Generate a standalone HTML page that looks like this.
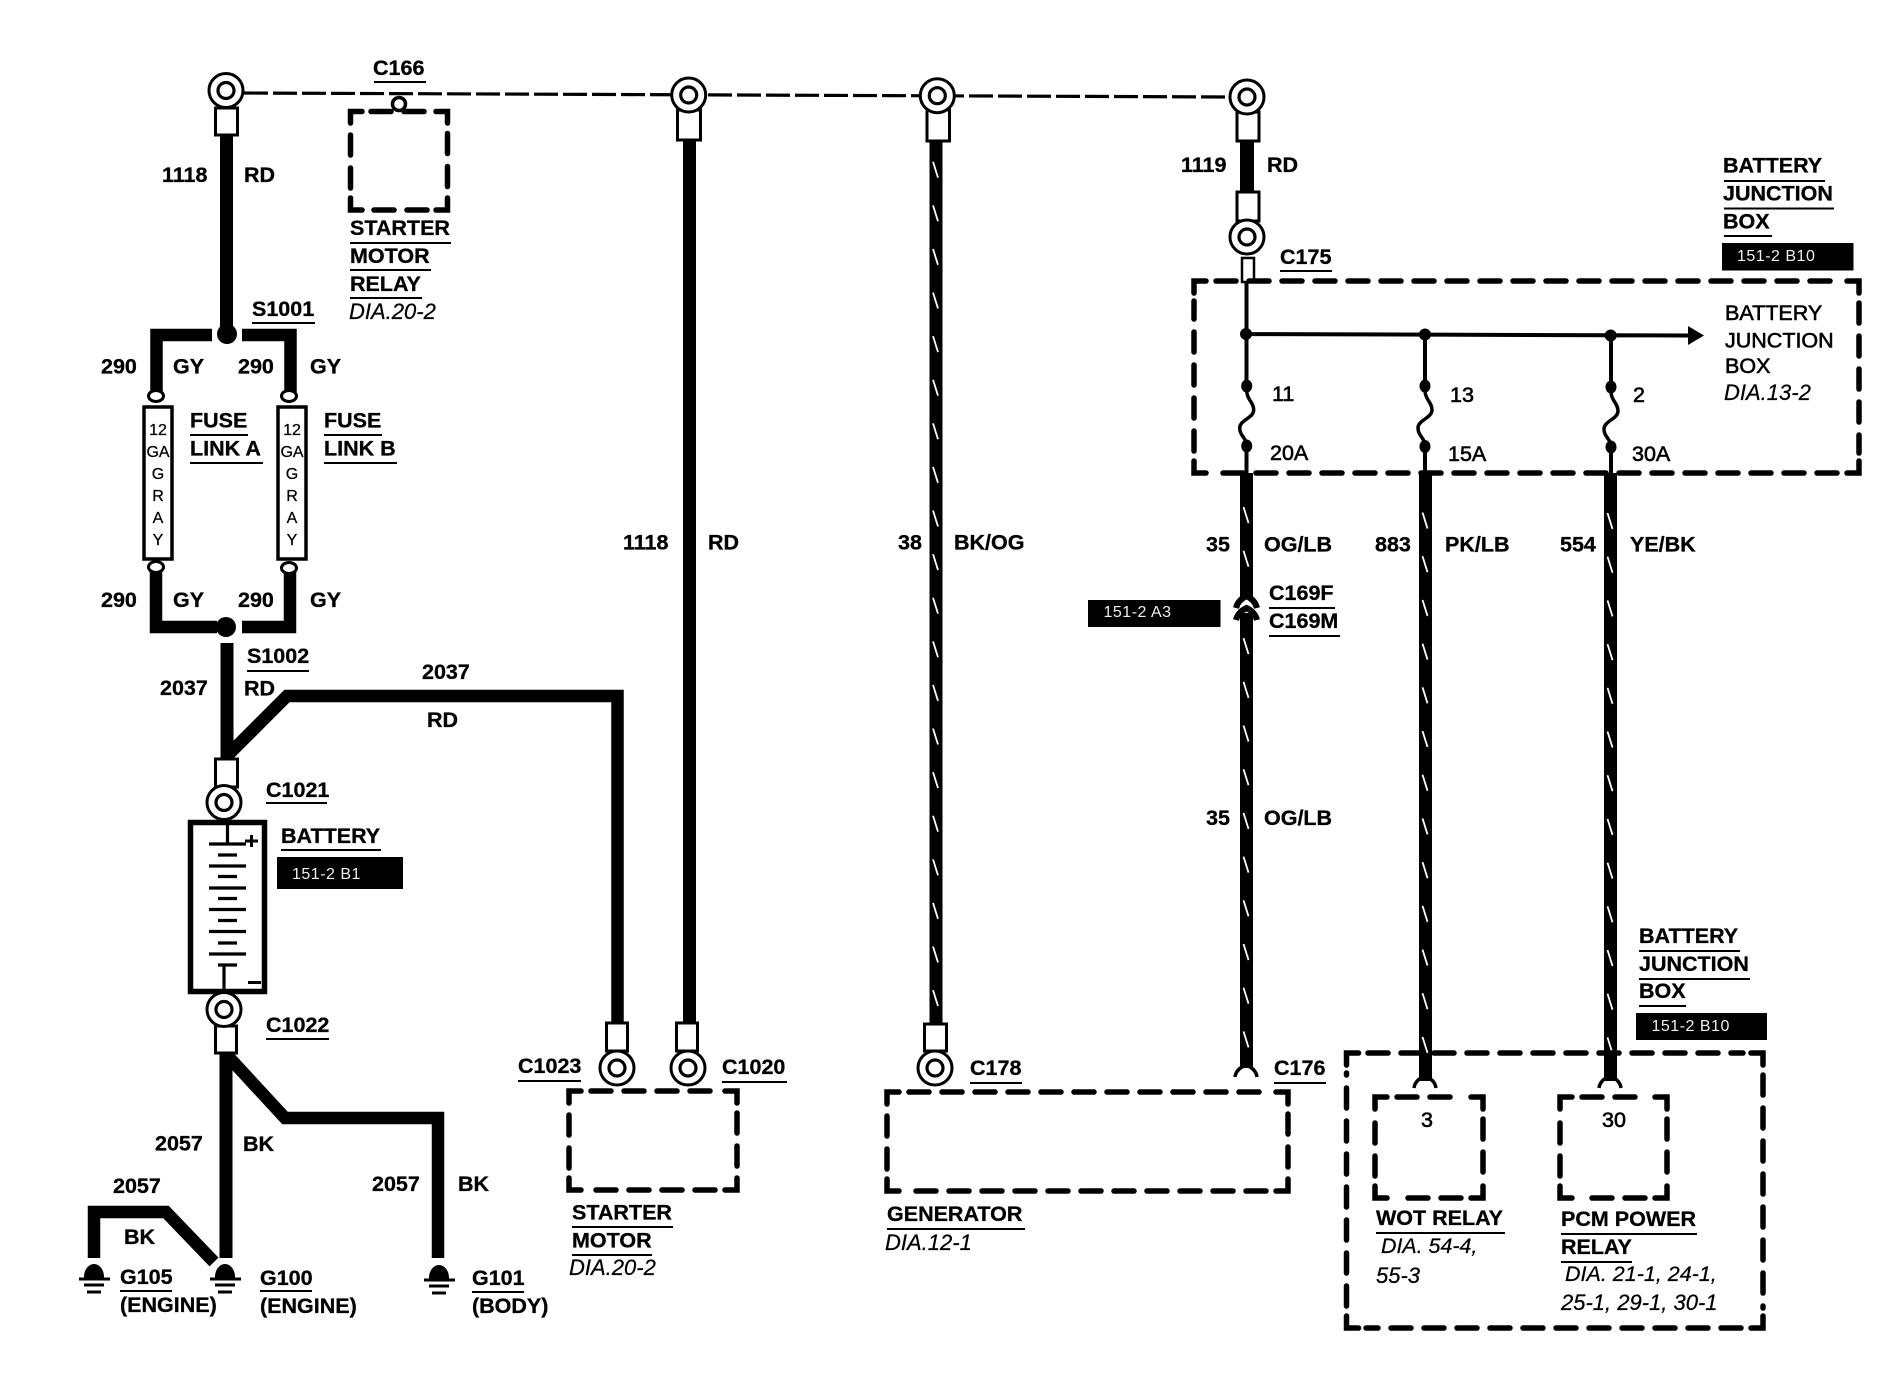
<!DOCTYPE html>
<html><head><meta charset="utf-8"><title>Starting and charging wiring diagram</title>
<style>
html,body{margin:0;padding:0;background:#fff}
svg{display:block}
text{font-family:"Liberation Sans",Arial,sans-serif;fill:#000}
.b{font-size:21.5px;font-weight:bold;stroke:#000;stroke-width:.3px}
.r{font-size:21.5px;stroke:#000;stroke-width:.6px}
.i{font-size:22px;font-style:italic;stroke:#000;stroke-width:.25px}
.f{font-size:16px;text-anchor:middle;stroke:#000;stroke-width:.25px}
.w{font-size:16px;fill:#eee;letter-spacing:.5px}
.wire{stroke:#000;stroke-width:13;fill:none}
.ul{stroke:#000;stroke-width:2;fill:none}
.side{stroke:#000;stroke-width:5.5;fill:none;stroke-linecap:round;stroke-dasharray:20 13}
.cor{stroke:#000;stroke-width:5.5;fill:none;stroke-linecap:round}
.term{fill:#fff;stroke:#000;stroke-width:3}
.thin{stroke:#000;stroke-width:4;fill:none}
</style></head><body>
<svg width="1902" height="1376" viewBox="0 0 1902 1376" xmlns="http://www.w3.org/2000/svg">
<defs>
<g id="ring"><circle r="17" fill="#fff" stroke="#000" stroke-width="3"/><circle r="8" fill="#fff" stroke="#000" stroke-width="3.2"/></g>
<g id="sq"><path d="M0 0C0 10 7 12 7 20C7 28-7 30-7 38C-7 46 0 48 0 56" fill="none" stroke="#000" stroke-width="3.5"/></g>
<g id="gnd"><path d="M-9 0a9 12 0 0 1 18 0z" stroke="#000" stroke-width="2"/><path d="M-15 2H16M-10 8H10M-7 15H7" stroke="#000" stroke-width="3" fill="none"/></g>
<pattern id="p38" patternUnits="userSpaceOnUse" x="929.5" y="161.7" width="20" height="43.6"><line x1="3.5" y1="0" x2="8.5" y2="16" stroke="#fff" stroke-width="1.8"/></pattern>
<pattern id="p35" patternUnits="userSpaceOnUse" x="1240" y="507" width="20" height="43.7"><line x1="3.5" y1="0" x2="8.5" y2="16" stroke="#fff" stroke-width="1.8"/></pattern>
<pattern id="p883" patternUnits="userSpaceOnUse" x="1419" y="512.5" width="20" height="43.7"><line x1="3.5" y1="0" x2="8.5" y2="16" stroke="#fff" stroke-width="1.8"/></pattern>
<pattern id="p554" patternUnits="userSpaceOnUse" x="1604" y="513" width="20" height="43.7"><line x1="3.5" y1="0" x2="8.5" y2="16" stroke="#fff" stroke-width="1.8"/></pattern>
</defs>

<!-- top dashed bus -->
<path d="M244 93L1231 97" stroke="#000" stroke-width="3.2" stroke-dasharray="24 5" fill="none"/>

<!-- left column wires -->
<path class="wire" d="M226.5 135V328"/>
<path d="M212 335H156.5V392M242 335H290.5V392" stroke="#000" stroke-width="12.5" fill="none"/>
<path d="M156 568V627H217M290 568V627H242" stroke="#000" stroke-width="12.5" fill="none"/>
<path class="wire" d="M227 643V760"/>
<path d="M228 755L287 696H617.5V1024" stroke="#000" stroke-width="12.5" fill="none"/>
<path class="wire" d="M226 1052V1258"/>
<path d="M225 1053L285 1118H438V1258" stroke="#000" stroke-width="12.5" fill="none"/>
<path d="M94 1258V1212H166L214 1262" stroke="#000" stroke-width="12.5" fill="none"/>

<circle cx="227" cy="334" r="10"/>
<circle cx="226" cy="627" r="10"/>

<!-- fuse links -->
<ellipse cx="156" cy="396" rx="7.5" ry="5.5" class="term"/>
<ellipse cx="289" cy="396" rx="7.5" ry="5.5" class="term"/>
<ellipse cx="156" cy="567" rx="7.5" ry="5.5" class="term"/>
<ellipse cx="289" cy="568" rx="7.5" ry="5.5" class="term"/>
<rect x="144" y="407" width="28" height="152" fill="#fff" stroke="#000" stroke-width="3.5"/>
<rect x="278" y="407" width="28" height="152" fill="#fff" stroke="#000" stroke-width="3.5"/>
<text class="f" x="158" y="435">12</text><text class="f" x="158" y="457">GA</text><text class="f" x="158" y="479">G</text><text class="f" x="158" y="501">R</text><text class="f" x="158" y="523">A</text><text class="f" x="158" y="545">Y</text>
<text class="f" x="292" y="435">12</text><text class="f" x="292" y="457">GA</text><text class="f" x="292" y="479">G</text><text class="f" x="292" y="501">R</text><text class="f" x="292" y="523">A</text><text class="f" x="292" y="545">Y</text>

<!-- terminals left -->
<rect class="term" x="215.5" y="108" width="22" height="27"/>
<use href="#ring" x="226" y="90.5"/>
<rect class="term" x="215.5" y="759" width="22" height="28"/>
<use href="#ring" x="224" y="802.5"/>

<!-- battery -->
<rect x="190.5" y="822.5" width="74" height="169" fill="#fff" stroke="#000" stroke-width="5.5"/>
<path d="M227.5 822V844M209 844H246M218 855H237M209 866H246M218 876.5H237M209 888H246M218 898.5H237M209 909.5H246M218 920.5H237M209 931.5H246M218 943H237M209 954H246M218 965H237M224 965V991" stroke="#000" stroke-width="3.2" fill="none"/>
<path d="M245 841H258M251.5 835V847M248 982.5H261" stroke="#000" stroke-width="3" fill="none"/>
<rect class="term" x="215.5" y="1026" width="21" height="27"/>
<use href="#ring" x="224" y="1009.5"/>

<!-- grounds -->
<use href="#gnd" x="94" y="1277"/>
<use href="#gnd" x="225" y="1277"/>
<use href="#gnd" x="439" y="1278"/>

<!-- middle wires -->
<path class="wire" d="M689.5 140V1024"/>
<rect x="929.5" y="140" width="13" height="884"/>
<rect x="929.5" y="150" width="13" height="870" fill="url(#p38)"/>

<rect class="term" x="677.5" y="110" width="23" height="30"/>
<use href="#ring" x="688.7" y="95"/>
<rect class="term" x="927" y="110" width="22.5" height="31"/>
<use href="#ring" x="937.3" y="95.7"/>
<rect class="term" x="606.5" y="1023" width="21" height="28"/>
<use href="#ring" x="617" y="1068"/>
<rect class="term" x="676.5" y="1023" width="21" height="28"/>
<use href="#ring" x="688" y="1068"/>
<rect class="term" x="924.5" y="1024" width="22" height="27"/>
<use href="#ring" x="935" y="1068"/>

<!-- 1119 terminal stack -->
<rect x="1240" y="141" width="14" height="52"/>
<rect class="term" x="1237" y="112" width="22" height="29"/>
<use href="#ring" x="1247" y="97"/>
<rect class="term" x="1237" y="192" width="22" height="29"/>
<use href="#ring" x="1247" y="237"/>
<rect x="1242" y="258" width="12" height="24" fill="#fff" stroke="#000" stroke-width="2.5"/>

<!-- junction box internals -->
<path class="thin" d="M1246.5 281V386M1246 334L1688 335.5M1425 334.5V386M1611 335.5V387M1246.5 446V475M1425 446V475M1611 447V475"/>
<polygon points="1688,326 1704,335.5 1688,345"/>
<circle cx="1246" cy="334" r="6"/><circle cx="1425" cy="334.5" r="6"/><circle cx="1610.7" cy="335.5" r="6"/>
<ellipse cx="1246.7" cy="386" rx="5.5" ry="6.5"/><ellipse cx="1425" cy="386" rx="5.5" ry="6.5"/><ellipse cx="1611" cy="387" rx="5.5" ry="6.5"/>
<ellipse cx="1246.7" cy="446" rx="5.5" ry="6.5"/><ellipse cx="1425" cy="446.5" rx="5.5" ry="6.5"/><ellipse cx="1611" cy="447" rx="5.5" ry="6.5"/>
<use href="#sq" x="1246.7" y="390"/><use href="#sq" x="1425" y="390"/><use href="#sq" x="1611" y="391"/>

<!-- striped wires right -->
<rect x="1240" y="473" width="13" height="126"/>
<rect x="1240" y="613" width="13" height="455"/>
<rect x="1419" y="473" width="13" height="608"/>
<rect x="1604" y="473" width="13" height="608"/>
<rect x="1240" y="480" width="13" height="110" fill="url(#p35)"/>
<rect x="1240" y="625" width="13" height="440" fill="url(#p35)"/>
<rect x="1419" y="490" width="13" height="585" fill="url(#p883)"/>
<rect x="1604" y="490" width="13" height="585" fill="url(#p554)"/>

<!-- C169 connector -->
<path d="M1236 608Q1238 600 1246.5 596Q1255 600 1257 608" stroke="#000" stroke-width="6" fill="none"/>
<path d="M1236 620Q1238 612 1246.5 608Q1255 612 1257 620" stroke="#000" stroke-width="6" fill="none"/>

<!-- forks -->
<path d="M1235 1077Q1236 1069 1246 1065Q1256 1069 1257 1077" stroke="#000" stroke-width="3.5" fill="none"/>
<path d="M1414 1088Q1415 1080 1425 1076Q1435 1080 1436 1088" stroke="#000" stroke-width="3.5" fill="none"/>
<path d="M1599 1088Q1600 1080 1610 1076Q1620 1080 1621 1088" stroke="#000" stroke-width="3.5" fill="none"/>

<!-- dashed boxes -->
<path class="cor" d="M350.5 123V111.5H362M436 111.5H447.5V123M447.5 198V210H436M362 210H350.5V198"/>
<path class="side" d="M371 111.5H428M447.5 133.5V190M427 210H369M350.5 188V131.5"/>
<circle cx="399" cy="104" r="6.5" fill="#fff" stroke="#000" stroke-width="3.5"/>
<path class="cor" d="M569 1103V1091H581M725 1091H737V1103M737 1178V1190H725M581 1190H569V1178"/>
<path class="side" d="M591 1091H717M737 1113V1170M715 1190H589M569 1168V1111"/>
<path class="cor" d="M887 1104V1092H899M1276 1092H1288V1104M1288 1179V1191H1276M899 1191H887V1179"/>
<path class="side" d="M909 1092H1268M1288 1114V1171M1266 1191H907M887 1169V1112"/>
<path class="cor" d="M1194 293V281H1206M1847 281H1859V293M1859 461V473H1847M1206 473H1194V461"/>
<path class="side" d="M1216 281H1839M1859 303V453M1837 473H1214M1194 451V301"/>
<path class="cor" d="M1346.5 1065V1053H1358.5M1751 1053H1763V1065M1763 1316V1328H1751M1358.5 1328H1346.5V1316"/>
<path class="side" d="M1368 1053H1743M1763 1075V1308M1741 1328H1366M1346.5 1306V1073"/>
<path class="cor" d="M1375 1109V1097H1387M1471 1097H1483V1109M1483 1186V1198H1471M1387 1198H1375V1186"/>
<path class="side" d="M1397 1097H1463M1483 1119V1178M1461 1198H1395M1375 1176V1117"/>
<path class="cor" d="M1560 1109V1097H1572M1655 1097H1667V1109M1667 1186V1198H1655M1572 1198H1560V1186"/>
<path class="side" d="M1582 1097H1647M1667 1119V1178M1645 1198H1580M1560 1176V1117"/>

<!-- black reference tags -->
<rect x="277" y="857" width="126" height="32"/><text class="w" x="292" y="879">151-2 B1</text>
<rect x="1722" y="243" width="131.5" height="27.5"/><text class="w" x="1737" y="261">151-2 B10</text>
<rect x="1088" y="600" width="132.5" height="27"/><text class="w" x="1103.5" y="617">151-2 A3</text>
<rect x="1636" y="1013" width="131" height="27"/><text class="w" x="1651.5" y="1031">151-2 B10</text>

<!-- underlines -->
<path class="ul" d="M374 82H426M350 243H451M350 270H431M350 298H422M252 323H315M190 435H248M190 463H263M324 435H382M324 463H397M247 671H309M266 803H327M281 850H381M266 1039H329M518 1081H581M722 1082H787M572 1227H673M572 1255H652M120 1291H172M260 1291H312M472 1292H524M970 1083H1022M1274 1083H1326M887 1229H1025M1280 271H1332M1724 181H1825M1724 208.5H1834M1724 236H1772M1269 608H1335M1269 636H1340M1639 951H1740M1639 979H1750M1639 1006H1686M1376 1233H1505M1561 1234H1697M1561 1262H1632"/>

<!-- bold labels -->
<text class="b" x="373" y="75">C166</text>
<text class="b" x="162" y="182">1118</text>
<text class="b" x="244" y="182">RD</text>
<text class="b" x="350" y="235">STARTER</text>
<text class="b" x="350" y="263">MOTOR</text>
<text class="b" x="350" y="291">RELAY</text>
<text class="i" x="349" y="319">DIA.20-2</text>
<text class="b" x="252" y="316">S1001</text>
<text class="b" x="101" y="373.5">290</text><text class="b" x="173" y="373.5">GY</text><text class="b" x="238" y="373.5">290</text><text class="b" x="310" y="373.5">GY</text>
<text class="b" x="190" y="427.5">FUSE</text><text class="b" x="190" y="455.5">LINK A</text>
<text class="b" x="324" y="427.5">FUSE</text><text class="b" x="324" y="455.5">LINK B</text>
<text class="b" x="101" y="607">290</text><text class="b" x="173" y="607">GY</text><text class="b" x="238" y="607">290</text><text class="b" x="310" y="607">GY</text>
<text class="b" x="247" y="663">S1002</text>
<text class="b" x="160" y="695">2037</text><text class="b" x="244" y="695.5">RD</text>
<text class="b" x="422" y="679">2037</text><text class="b" x="427" y="727">RD</text>
<text class="b" x="266" y="797">C1021</text>
<text class="b" x="281" y="843">BATTERY</text>
<text class="b" x="266" y="1032">C1022</text>
<text class="b" x="155" y="1150.5">2057</text><text class="b" x="243" y="1151">BK</text>
<text class="b" x="113" y="1193">2057</text><text class="b" x="124" y="1244">BK</text>
<text class="b" x="372" y="1191">2057</text><text class="b" x="458" y="1191">BK</text>
<text class="b" x="120" y="1284">G105</text><text class="b" x="120" y="1312">(ENGINE)</text>
<text class="b" x="260" y="1285">G100</text><text class="b" x="260" y="1313">(ENGINE)</text>
<text class="b" x="472" y="1285">G101</text><text class="b" x="472" y="1313">(BODY)</text>
<text class="b" x="518" y="1073">C1023</text>
<text class="b" x="722" y="1074">C1020</text>
<text class="b" x="572" y="1219.5">STARTER</text>
<text class="b" x="572" y="1247.5">MOTOR</text>
<text class="i" x="569" y="1275">DIA.20-2</text>
<text class="b" x="623" y="549.5">1118</text><text class="b" x="708" y="549.5">RD</text>
<text class="b" x="898" y="549.5">38</text><text class="b" x="954" y="549.5">BK/OG</text>
<text class="b" x="970" y="1075">C178</text>
<text class="b" x="1274" y="1075">C176</text>
<text class="b" x="887" y="1221">GENERATOR</text>
<text class="i" x="885" y="1250">DIA.12-1</text>
<text class="b" x="1181" y="172">1119</text><text class="b" x="1267" y="172">RD</text>
<text class="b" x="1280" y="264">C175</text>
<text class="b" x="1723" y="172.5">BATTERY</text><text class="b" x="1723" y="200.5">JUNCTION</text><text class="b" x="1723" y="228.5">BOX</text>
<text class="r" x="1725" y="320">BATTERY</text><text class="r" x="1725" y="347.5">JUNCTION</text><text class="r" x="1725" y="373">BOX</text>
<text class="i" x="1724" y="400">DIA.13-2</text>
<text class="r" x="1272" y="401">11</text><text class="r" x="1450" y="402">13</text><text class="r" x="1633" y="402">2</text>
<text class="r" x="1270" y="460">20A</text><text class="r" x="1448" y="461">15A</text><text class="r" x="1632" y="461">30A</text>
<text class="b" x="1206" y="551.5">35</text><text class="b" x="1264" y="551.5">OG/LB</text>
<text class="b" x="1375" y="551.5">883</text><text class="b" x="1445" y="551.5">PK/LB</text>
<text class="b" x="1560" y="551.5">554</text><text class="b" x="1630" y="551.5">YE/BK</text>
<text class="b" x="1269" y="600">C169F</text><text class="b" x="1269" y="628">C169M</text>
<text class="b" x="1206" y="825">35</text><text class="b" x="1264" y="825">OG/LB</text>
<text class="b" x="1639" y="943">BATTERY</text><text class="b" x="1639" y="971">JUNCTION</text><text class="b" x="1639" y="998">BOX</text>
<text class="r" x="1421" y="1127">3</text><text class="r" x="1614" y="1127" text-anchor="middle">30</text>
<text class="b" x="1376" y="1225">WOT RELAY</text>
<text class="i" x="1381" y="1253" style="font-size:21.4px">DIA. 54-4,</text><text class="i" x="1376" y="1283">55-3</text>
<text class="b" x="1561" y="1226">PCM POWER</text><text class="b" x="1561" y="1254">RELAY</text>
<text class="i" x="1565" y="1281" style="font-size:21.5px">DIA. 21-1, 24-1,</text><text class="i" x="1561" y="1310">25-1, 29-1, 30-1</text>
</svg>
</body></html>
